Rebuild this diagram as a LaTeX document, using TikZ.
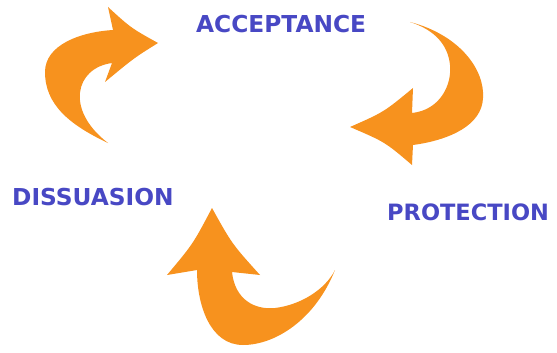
\documentclass[tikz,border=0pt]{standalone}
\usepackage{fontspec}
\setmainfont{DejaVu Sans}
\definecolor{arroworange}{RGB}{247,146,30}
\definecolor{labelblue}{RGB}{72,72,196}
\begin{document}
\begin{tikzpicture}[x=1pt,y=-1pt,
  arrowshape/.style={fill=arroworange},
  lbl/.style={text=labelblue, font=\bfseries\fontsize{22.5}{26}\selectfont, inner sep=0pt, anchor=base west}]
\useasboundingbox (0,0) rectangle (557,353);
% top-left arrow
\fill[arrowshape] (108,143) .. controls (70,125) and (45,105) .. (45,72)
  .. controls (45,45) and (80,32) .. (113,30)
  -- (108,7) .. controls (131,28) .. (158,43)
  .. controls (134,58) .. (105,82) -- (112,63)
  .. controls (75,68) and (65,110) .. (108,143) -- cycle;
% top-right arrow
\fill[arrowshape] (410,22) .. controls (460,35) and (485,70) .. (483,98)
  .. controls (482,125) and (450,140) .. (413,145)
  -- (412,165) .. controls (385,142) .. (350,127)
  .. controls (384,112) .. (413,88) -- (412,113)
  .. controls (440,110) and (452,85) .. (450,65)
  .. controls (448,45) and (435,30) .. (410,22) -- cycle;
% bottom arrow
\fill[arrowshape] (335,270) .. controls (315,320) and (275,345) .. (243,345)
  .. controls (210,345) and (197,305) .. (197,270)
  -- (167,275) .. controls (193,244) .. (212,208)
  .. controls (232,244) .. (260,275) -- (232,272)
  .. controls (235,300) and (255,310) .. (275,308)
  .. controls (300,305) and (325,290) .. (335,270) -- cycle;
\node[lbl, font=\bfseries\fontsize{23.3}{26}\selectfont] (acc) at (196,33) {ACCEPTANCE};
\node[lbl, font=\bfseries\fontsize{23.3}{26}\selectfont] (dis) at (12,205) {DISSUASION};
\node[lbl] (pro) at (387,220) {PROTECTION};
\end{tikzpicture}
\end{document}
